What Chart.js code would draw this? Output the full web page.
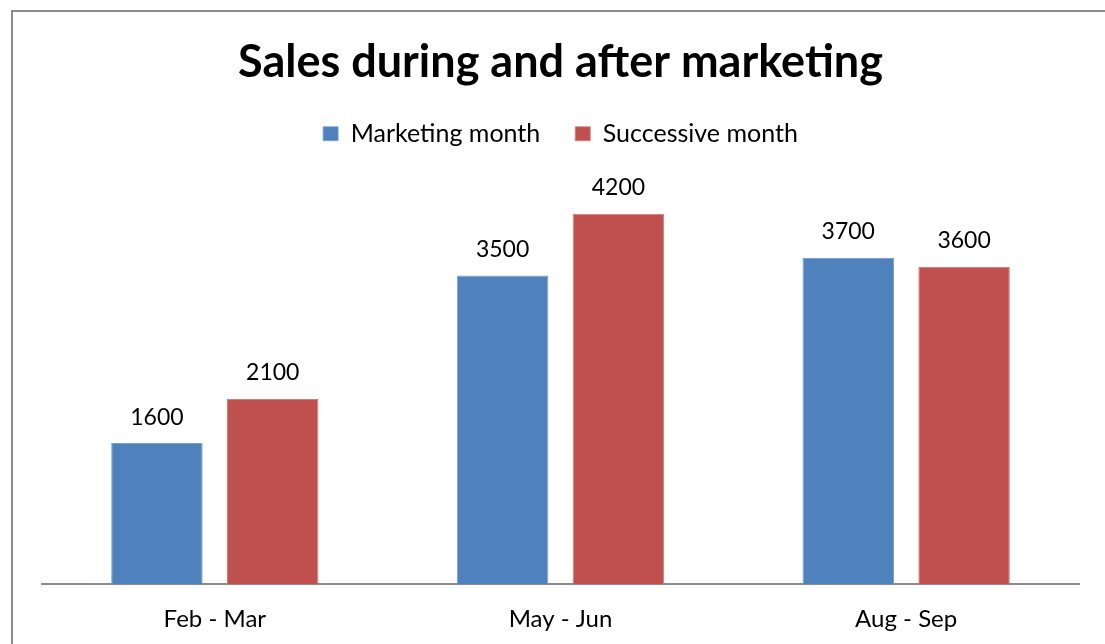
<!DOCTYPE html>
<html>
<head>
<meta charset="utf-8">
<script src="https://cdn.jsdelivr.net/npm/chart.js@4"></script>
<style>
  body { margin: 0; background: #fff; }
  #wrap { width: 1105px; height: 644px; }
</style>
</head>
<body>
<div id="wrap"><canvas id="salesChart" width="1105" height="644"></canvas></div>
<script>
const categories = ['Feb - Mar', 'May - Jun', 'Aug - Sep'];
const marketingMonth = [1600, 3500, 3700];
const successiveMonth = [2100, 4200, 3600];

const FONT = 'Lato, "Open Sans", sans-serif';

// outer frame, like the chart area border in the sheet
const framePlugin = {
    id: 'frame',
    beforeDraw(chart) {
        const c = chart.ctx;
        c.save();
        c.fillStyle = '#fff';
        c.fillRect(0, 0, chart.width, chart.height);
        c.strokeStyle = '#8c8c8c';
        c.lineWidth = 2;
        c.strokeRect(12, 11, chart.width + 20, chart.height + 20);
        c.restore();
    }
};

// numbers over each bar
const valueLabels = {
    id: 'valueLabels',
    afterDatasetsDraw(chart) {
        const c = chart.ctx;
        c.save();
        c.font = '23px ' + FONT;
        c.fillStyle = '#000';
        c.textAlign = 'center';
        c.textBaseline = 'middle';
        chart.data.datasets.forEach((ds, i) => {
            chart.getDatasetMeta(i).data.forEach((bar, j) => {
                c.fillText(ds.data[j], bar.x, bar.y - 26);
            });
        });
        c.restore();
    }
};

// fixed legend height so the plot starts lower, and no clipping of the text
const legendSpace = {
    id: 'legendSpace',
    beforeInit(chart) {
        const legend = chart.legend;
        const fit = legend.fit;
        legend.fit = function () {
            fit.bind(legend)();
            this.height = 57;
        };
        legend.draw = function () {
            if (this.options.display) this._draw();
        };
    }
};

const ctx = document.getElementById('salesChart').getContext('2d');

const salesChart = new Chart(ctx, {
    type: 'bar',
    data: {
        labels: categories,
        datasets: [
            {
                label: 'Marketing month',
                data: marketingMonth,
                backgroundColor: '#4F81BD',
                borderColor: '#7aa0d0',
                borderWidth: { top: 1, left: 1, right: 1, bottom: 0 }
            },
            {
                label: 'Successive month',
                data: successiveMonth,
                backgroundColor: '#C0504D',
                borderColor: '#d47c7a',
                borderWidth: { top: 1, left: 1, right: 1, bottom: 0 }
            }
        ]
    },
    options: {
        responsive: false,
        animation: false,
        layout: {
            padding: { top: 39, left: 42, right: 26, bottom: -3 }
        },
        datasets: {
            bar: {
                categoryPercentage: 0.67,
                barPercentage: 0.79
            }
        },
        plugins: {
            title: {
                display: true,
                text: 'Sales during and after marketing',
                color: '#000',
                font: { family: FONT, size: 45, weight: 'bold', lineHeight: 1.05 },
                padding: { top: 0, bottom: 0 }
            },
            legend: {
                display: true,
                labels: {
                    color: '#000',
                    font: { family: FONT, size: 25 },
                    boxWidth: 15,
                    boxHeight: 14,
                    padding: 35
                }
            },
            tooltip: { enabled: false }
        },
        scales: {
            x: {
                grid: { display: false },
                border: { display: true, color: '#8c8c8c', width: 2 },
                ticks: {
                    color: '#000',
                    font: { family: FONT, size: 24 },
                    padding: 13
                }
            },
            y: {
                display: false,
                min: 0,
                max: 5000
            }
        }
    },
    plugins: [framePlugin, valueLabels, legendSpace]
});
</script>
</body>
</html>
